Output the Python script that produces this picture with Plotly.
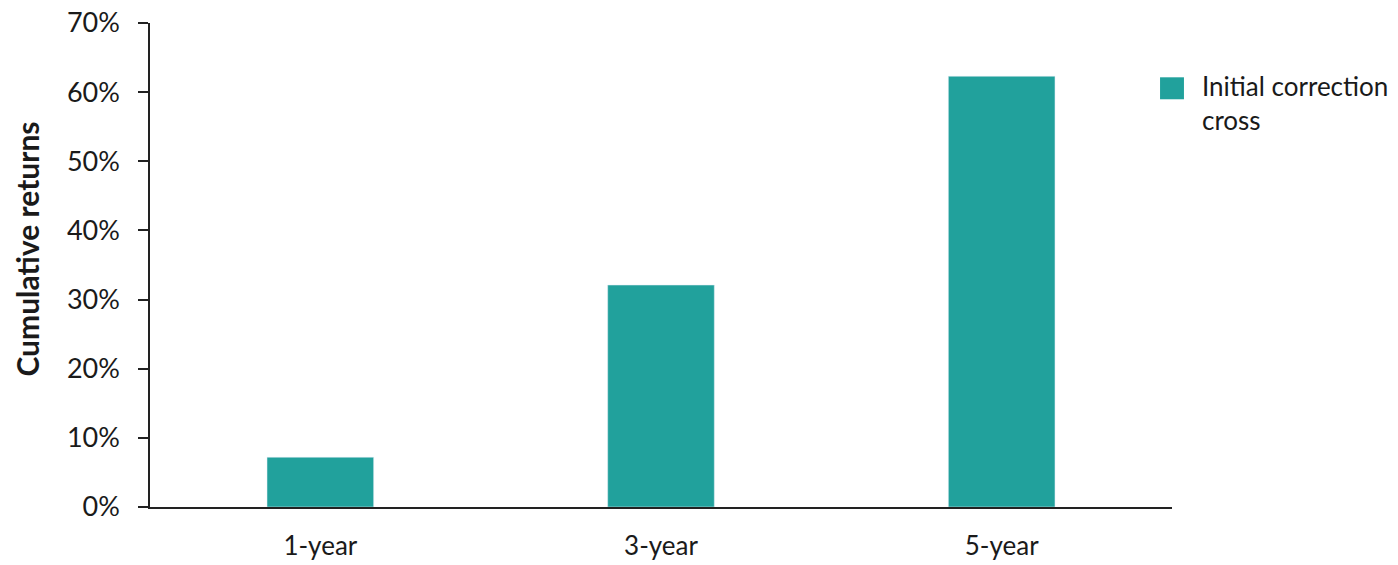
import plotly.graph_objects as go

periods = ["1-year", "3-year", "5-year"]
returns = [7.2, 32.1, 62.3]
series_name = "Initial correction<br>cross"
y_ticks = [0, 10, 20, 30, 40, 50, 60, 70]
y_labels = [f"{v}%" for v in y_ticks]

teal = "#21A19C"
ink = "#1a1a1a"
font = "Lato"

fig = go.Figure(go.Bar(
    x=periods,
    y=returns,
    marker_color=teal,
    width=0.313,
    showlegend=False,
    hoverinfo="skip",
))

fig.layout.xaxis.range = [-0.5, 2.5]
fig.layout.xaxis.automargin = False
fig.layout.xaxis.showgrid = False
fig.layout.xaxis.showline = True
fig.layout.xaxis.linecolor = "#222222"
fig.layout.xaxis.linewidth = 1.5
fig.layout.xaxis.ticks = ""
fig.layout.xaxis.ticklabelstandoff = 15
fig.layout.xaxis.ticklabeloverflow = "allow"
fig.layout.xaxis.tickfont = dict(family=font, size=26, color=ink)

fig.layout.yaxis.range = [0, 70]
fig.layout.yaxis.automargin = False
fig.layout.yaxis.tickvals = y_ticks
fig.layout.yaxis.ticktext = y_labels
fig.layout.yaxis.showgrid = False
fig.layout.yaxis.zeroline = False
fig.layout.yaxis.showline = True
fig.layout.yaxis.linecolor = "#222222"
fig.layout.yaxis.linewidth = 1.5
fig.layout.yaxis.ticks = "outside"
fig.layout.yaxis.ticklen = 10
fig.layout.yaxis.tickcolor = "#222222"
fig.layout.yaxis.tickwidth = 1.5
fig.layout.yaxis.ticklabelstandoff = 13
fig.layout.yaxis.ticklabeloverflow = "allow"
fig.layout.yaxis.tickfont = dict(family=font, size=27, color=ink)

# y title placed by hand so it sits where the original one does
fig.add_annotation(
    text="<b>Cumulative returns</b>",
    xref="paper", yref="paper",
    x=-0.1213, y=0.532,
    xanchor="center", yanchor="middle",
    textangle=-90, showarrow=False,
    font=dict(family=font, size=30, color=ink),
)

# legend drawn as a swatch + label (plotly's bar swatch is too small)
fig.add_shape(
    type="rect", xref="paper", yref="paper",
    x0=0.9883, x1=1.0117, y0=0.8424, y1=0.8878,
    fillcolor=teal, line_width=0,
)
fig.add_annotation(
    text=series_name,
    xref="paper", yref="paper",
    x=1.0274, y=0.906,
    xanchor="left", yanchor="top",
    align="left", showarrow=False,
    font=dict(family=font, size=26, color=ink),
)

fig.update_layout(
    width=1398, height=565,
    margin=dict(l=150, r=226, t=23, b=58),
    paper_bgcolor="white",
    plot_bgcolor="white",
)

config = dict(displayModeBar=False)
# drop the default 8px body margin so the figure fills the window exactly
fig.write_html("out.html", config=config,
               post_script="document.body.style.margin='0';")
